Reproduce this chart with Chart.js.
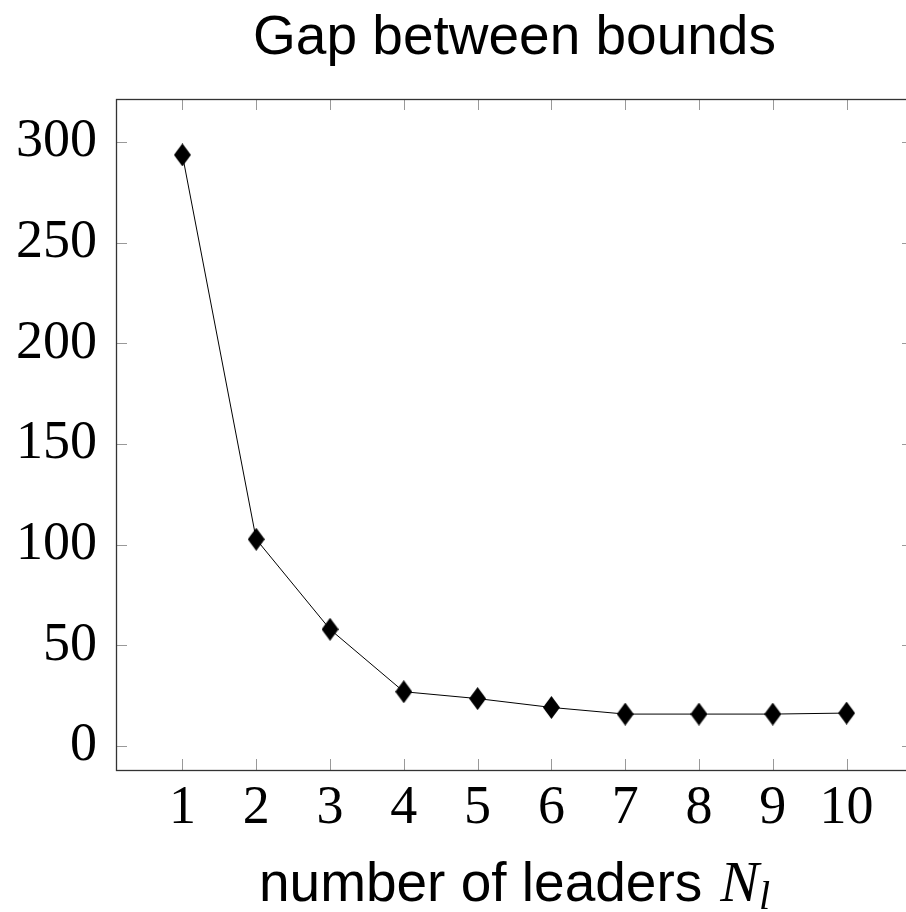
<!DOCTYPE html>
<html>
<head>
<meta charset="utf-8">
<title>Gap between bounds</title>
<script src="https://cdn.jsdelivr.net/npm/chart.js@4.4.1/dist/chart.umd.min.js"></script>
<style>
  html, body { margin: 0; padding: 0; background: #fff; overflow: hidden; }
  canvas { display: block; }
</style>
</head>
<body>
<canvas id="gapChart" width="914" height="912"></canvas>
<script>
// number of leaders vs. gap between upper and lower bound
const LEADERS = [1, 2, 3, 4, 5, 6, 7, 8, 9, 10];
const GAP = [293.6, 102.7, 58.0, 27.0, 23.6, 19.2, 15.9, 15.9, 15.9, 16.4];

const X_TICKS = [1, 2, 3, 4, 5, 6, 7, 8, 9, 10];
const Y_TICKS = [0, 50, 100, 150, 200, 250, 300];

const TITLE = "Gap between bounds";
const X_LABEL = "number of leaders";

const SANS = "'Liberation Sans', Arial, sans-serif";
const SERIF = "'Liberation Serif', 'Times New Roman', serif";

// axis limits padded 10% around the data, like pgfplots' enlargelimits
const X_MIN = 0.1, X_MAX = 10.9;
const gMin = Math.min(...GAP), gMax = Math.max(...GAP);
const Y_MIN = gMin - 0.1 * (gMax - gMin);
const Y_MAX = gMax + 0.1 * (gMax - gMin);

function diamondMark(w, h) {
  const c = document.createElement("canvas");
  c.width = w;
  c.height = h;
  const ctx = c.getContext("2d");
  ctx.fillStyle = "#000";
  ctx.beginPath();
  ctx.moveTo(w / 2, 0);
  ctx.lineTo(w, h / 2);
  ctx.lineTo(w / 2, h);
  ctx.lineTo(0, h / 2);
  ctx.closePath();
  ctx.fill();
  return c;
}

// box around the plot with inward ticks on all four sides
const frameAndTicks = {
  id: "frameAndTicks",
  afterDatasetsDraw(chart) {
    const { ctx, chartArea: a, scales } = chart;
    const tick = 11;
    ctx.save();
    ctx.lineWidth = 1;
    ctx.strokeStyle = "#999";
    ctx.beginPath();
    X_TICKS.forEach((v) => {
      const x = Math.round(scales.x.getPixelForValue(v)) + 0.5;
      ctx.moveTo(x, a.bottom);
      ctx.lineTo(x, a.bottom - tick);
      ctx.moveTo(x, a.top);
      ctx.lineTo(x, a.top + tick);
    });
    Y_TICKS.forEach((v) => {
      const y = Math.round(scales.y.getPixelForValue(v)) + 0.5;
      ctx.moveTo(a.left, y);
      ctx.lineTo(a.left + tick, y);
      ctx.moveTo(a.right, y);
      ctx.lineTo(a.right - tick, y);
    });
    ctx.stroke();
    ctx.strokeStyle = "#333";
    ctx.lineWidth = 1.3;
    ctx.strokeRect(a.left + 0.5, a.top + 0.5, a.right - a.left, a.bottom - a.top);
    ctx.restore();
  },
};

// title and x-axis label, centred on the plot area
const labels = {
  id: "labels",
  afterDraw(chart) {
    const { ctx, chartArea: a } = chart;
    const cx = (a.left + a.right) / 2;
    ctx.save();
    ctx.fillStyle = "#000";
    ctx.textBaseline = "alphabetic";

    ctx.font = "55px " + SANS;
    ctx.textAlign = "center";
    ctx.fillText(TITLE, cx, 54);

    // "number of leaders N_l" with a math-style N and subscript l
    const mainFont = "55px " + SANS;
    const nFont = "italic 58px " + SERIF;
    const subFont = "italic 40px " + SERIF;
    const gap = 18;
    ctx.font = mainFont;
    const w1 = ctx.measureText(X_LABEL).width;
    ctx.font = nFont;
    const w2 = ctx.measureText("N").width;
    ctx.font = subFont;
    const w3 = ctx.measureText("l").width;
    let x = cx - (w1 + gap + w2 + w3) / 2;
    const base = 901;
    ctx.textAlign = "left";
    ctx.font = mainFont;
    ctx.fillText(X_LABEL, x, base);
    x += w1 + gap;
    ctx.font = nFont;
    ctx.fillText("N", x, base);
    x += w2;
    ctx.font = subFont;
    ctx.fillText("l", x, base + 8);
    ctx.restore();
  },
};

const points = LEADERS.map((n, i) => ({ x: n, y: GAP[i] }));

new Chart(document.getElementById("gapChart"), {
  type: "line",
  data: {
    datasets: [
      {
        data: points,
        borderColor: "#000",
        borderWidth: 1,
        tension: 0,
        pointStyle: diamondMark(17, 23),
        pointRadius: 9,
        pointBackgroundColor: "#000",
        pointBorderColor: "#000",
      },
    ],
  },
  options: {
    responsive: false,
    animation: false,
    events: [],
    // canvas is a little wider than the page, so the right edge of the box is cut off
    layout: { autoPadding: false, padding: { top: 99, left: 0, right: 1, bottom: 0 } },
    plugins: {
      legend: { display: false },
      tooltip: { enabled: false },
      title: { display: false },
    },
    scales: {
      x: {
        type: "linear",
        min: X_MIN,
        max: X_MAX,
        afterBuildTicks: (s) => {
          s.ticks = X_TICKS.map((v) => ({ value: v }));
        },
        afterFit: (s) => {
          s.height = 142;
          s.paddingLeft = 0;
          s.paddingRight = 0;
        },
        grid: { display: false, drawTicks: false },
        border: { display: false },
        ticks: {
          padding: 6,
          color: "#000",
          maxRotation: 0,
          font: { family: SERIF, size: 54 },
        },
      },
      y: {
        type: "linear",
        min: Y_MIN,
        max: Y_MAX,
        afterBuildTicks: (s) => {
          s.ticks = Y_TICKS.map((v) => ({ value: v }));
        },
        afterFit: (s) => {
          s.width = 116;
        },
        grid: { display: false, drawTicks: false },
        border: { display: false },
        ticks: {
          padding: 19,
          color: "#000",
          font: { family: SERIF, size: 54 },
        },
      },
    },
  },
  plugins: [frameAndTicks, labels],
});
</script>
</body>
</html>
